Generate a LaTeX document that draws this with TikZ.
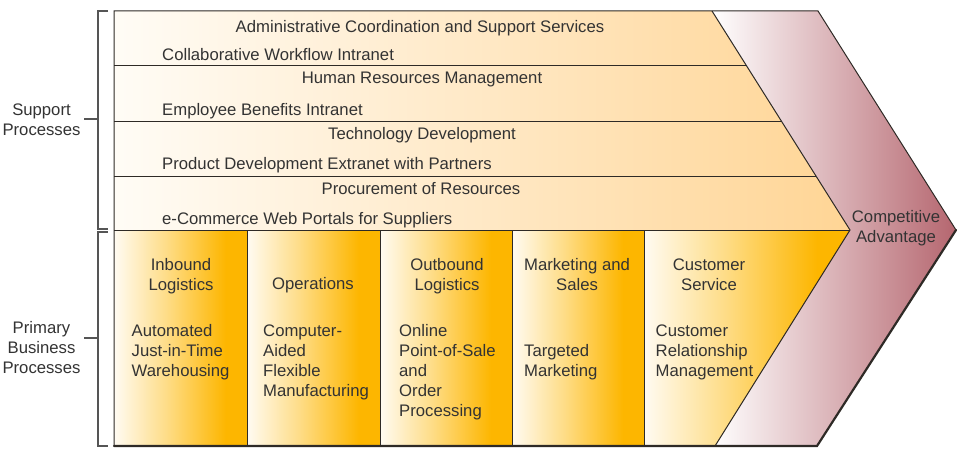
\documentclass[tikz,border=0pt]{standalone}
\usepackage{fontspec}
\setmainfont{Liberation Sans}
\definecolor{txt}{HTML}{333333}
\definecolor{edge}{HTML}{2E2A26}
\definecolor{supL}{HTML}{FFFCF6}
\definecolor{supR}{HTML}{FFD595}
\definecolor{priL}{HTML}{FFFBF2}
\definecolor{priR}{HTML}{FDB600}
\definecolor{chvL}{HTML}{FFFFFF}
\definecolor{chvR}{HTML}{B5666F}
\definecolor{brk}{HTML}{555555}
\pgfdeclarehorizontalshading{prishade}{100bp}{color(0bp)=(priL); color(25bp)=(priL); color(45bp)=(priR!45!priL); color(67bp)=(priR); color(100bp)=(priR)}
\tikzset{
  lbl/.style={inner sep=0pt, text=txt, font=\fontsize{16.7}{20}\selectfont},
  bline/.style={draw=edge, line width=1pt},
  brace/.style={draw=brk, line width=1.1pt}
}
\newcommand{\lines}[2]{\begin{tabular}[t]{@{}#1@{}}#2\end{tabular}}
\begin{document}
\begin{tikzpicture}[x=1pt,y=-1pt]
\useasboundingbox (0,0) rectangle (969,460);
% support area
\shade[left color=supL, right color=supR] (114,11) -- (712,11) -- (850,230) -- (114,230) -- cycle;
% chevron
\shade[left color=chvL, right color=chvR] (712,11) -- (818,11) -- (956,230) -- (817,446) -- (715,446) -- (850,230) -- cycle;
% primary columns
\shade[shading=prishade] (114,230) rectangle (247,446);
\shade[shading=prishade] (247,230) rectangle (380,446);
\shade[shading=prishade] (380,230) rectangle (512,446);
\shade[shading=prishade] (512,230) rectangle (644,446);
\shade[shading=prishade] (644,230) -- (850,230) -- (715,446) -- (644,446) -- cycle;
% coordinates
\coordinate (tl) at (114,11);
\coordinate (ti) at (712,11);
\coordinate (to) at (818,11);
\coordinate (tip) at (956,230);
\coordinate (mid) at (850,230);
\coordinate (bi) at (715,446);
\coordinate (bo) at (817,446);
\coordinate (bl) at (114,446);
% row lines
\draw[bline] (114,66) -- (746.7,66);
\draw[bline] (114,121) -- (781.3,121);
\draw[bline] (114,176) -- (815.9,176);
\draw[bline] (114,230) -- (mid);
% column lines
\draw[bline] (247,230) -- (247,446);
\draw[bline] (380,230) -- (380,446);
\draw[bline] (512,230) -- (512,446);
\draw[bline] (644,230) -- (644,446);
% outline
\draw[bline] (bl) -- (tl) -- (to) -- (tip);
\draw[bline] (ti) -- (mid) -- (bi);
\draw[draw=edge, line width=2.2pt, line cap=round] (tip) -- (bo) -- (bl);
% brackets
\draw[brace] (108,11) -- (98,11) -- (98,229) -- (108,229);
\draw[brace] (84,119) -- (98,119);
\draw[brace] (108,232) -- (98,232) -- (98,446) -- (108,446);
\draw[brace] (84,338) -- (98,338);
% support texts
\node[lbl, anchor=base] (s1t) at (420,33) {Administrative Coordination and Support Services};
\node[lbl, anchor=base west] (s1b) at (162,61) {Collaborative Workflow Intranet};
\node[lbl, anchor=base] (s2t) at (422,84) {Human Resources Management};
\node[lbl, anchor=base west] (s2b) at (162,115) {Employee Benefits Intranet};
\node[lbl, anchor=base] (s3t) at (422,139) {Technology Development};
\node[lbl, anchor=base west] (s3b) at (162,169) {Product Development Extranet with Partners};
\node[lbl, anchor=base] (s4t) at (421,194) {Procurement of Resources};
\node[lbl, anchor=base west] (s4b) at (162,224) {e-Commerce Web Portals for Suppliers};
% primary titles
\node[lbl, anchor=base] (p1t) at (181,270) {\lines{c}{Inbound\\Logistics}};
\node[lbl, anchor=base] (p2t) at (313,289) {Operations};
\node[lbl, anchor=base] (p3t) at (447,270) {\lines{c}{Outbound\\Logistics}};
\node[lbl, anchor=base] (p4t) at (577,270) {\lines{c}{Marketing and\\Sales}};
\node[lbl, anchor=base] (p5t) at (709,270) {\lines{c}{Customer\\Service}};
% primary bodies
\node[lbl, anchor=base west] (p1b) at (131.5,336) {\lines{l}{Automated\\Just-in-Time\\Warehousing}};
\node[lbl, anchor=base west] (p2b) at (263,336) {\lines{l}{Computer-\\Aided\\Flexible\\Manufacturing}};
\node[lbl, anchor=base west] (p3b) at (399,336) {\lines{l}{Online\\Point-of-Sale\\and\\Order\\Processing}};
\node[lbl, anchor=base west] (p4b) at (524,356) {\lines{l}{Targeted\\Marketing}};
\node[lbl, anchor=base west] (p5b) at (655.5,336) {\lines{l}{Customer\\Relationship\\Management}};
% competitive advantage
\node[lbl, anchor=base] (ca) at (896,222) {\lines{c}{Competitive\\Advantage}};
% side labels
\node[lbl, anchor=base] (sp) at (41.5,115) {\lines{c}{Support\\Processes}};
\node[lbl, anchor=base] (pp) at (41.5,333) {\lines{c}{Primary\\Business\\Processes}};
\end{tikzpicture}
\end{document}
